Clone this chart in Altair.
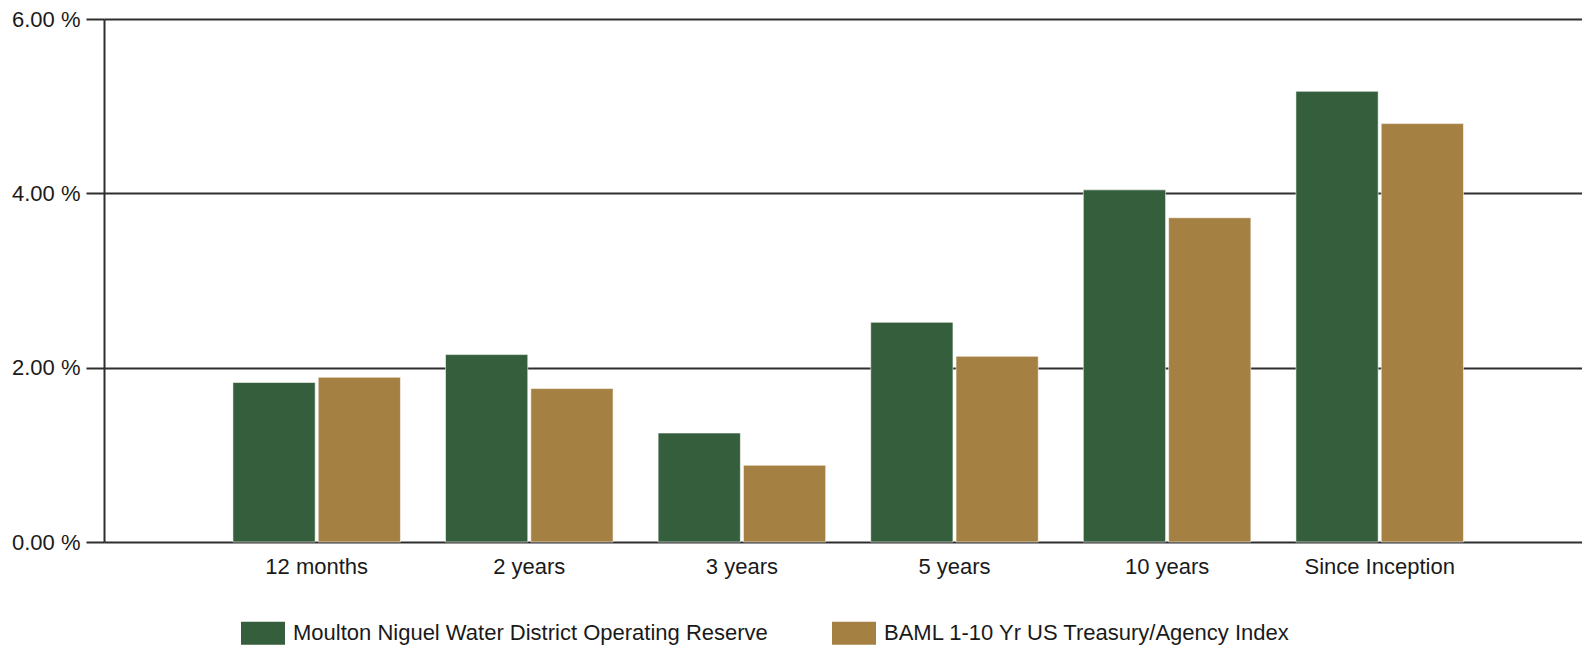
import altair as alt
import pandas as pd

categories = ["12 months", "2 years", "3 years", "5 years", "10 years", "Since Inception"]
series_names = ["Moulton Niguel Water District Operating Reserve", "BAML 1-10 Yr US Treasury/Agency Index"]
reserve_values = [1.83, 2.15, 1.25, 2.52, 4.04, 5.17]
index_values = [1.89, 1.76, 0.88, 2.13, 3.72, 4.80]
colors = ["#345E3C", "#A58043"]
y_ticks = [0, 2, 4, 6]

rows = []
for c, a, b in zip(categories, reserve_values, index_values):
    rows.append({"period": c, "series": series_names[0], "value": a})
    rows.append({"period": c, "series": series_names[1], "value": b})
df = pd.DataFrame(rows)

FONT = "Liberation Sans"
TXT = "#1a1a1a"
LINE = "#2e2e2e"

chart = alt.Chart(df).mark_bar(stroke="white", strokeWidth=1, strokeOpacity=0.55).encode(
    x=alt.X("period:N", sort=categories, title=None,
            scale=alt.Scale(paddingInner=0.212, paddingOuter=0.582, align=0.521),
            axis=alt.Axis(labelAngle=0, ticks=False, domain=False, labelPadding=14,
                          labelFont=FONT, labelFontSize=22, labelColor=TXT)),
    xOffset=alt.XOffset("series:N", sort=series_names,
                        scale=alt.Scale(paddingInner=0.036, paddingOuter=0)),
    y=alt.Y("value:Q", title=None,
            scale=alt.Scale(domain=[0, 6], nice=False),
            axis=alt.Axis(values=y_ticks, labelExpr="format(datum.value, '.2f') + ' %'",
                          grid=True, gridColor=LINE, gridWidth=2,
                          tickSize=18, tickColor=LINE, tickWidth=2,
                          domainColor=LINE, domainWidth=2,
                          labelPadding=6, labelFont=FONT, labelFontSize=22, labelColor=TXT)),
    color=alt.Color("series:N", sort=series_names,
                    scale=alt.Scale(domain=series_names, range=colors),
                    legend=alt.Legend(title=None, orient="none", legendX=137, legendY=592,
                                      direction="horizontal", columns=2, columnPadding=64,
                                      symbolType="M-1,-0.52L1,-0.52L1,0.52L-1,0.52Z",
                                      symbolSize=1936, symbolStrokeWidth=0, symbolOpacity=1,
                                      labelOffset=8, labelLimit=0, padding=0,
                                      labelFont=FONT, labelFontSize=22, labelColor=TXT)),
).properties(
    width=1478, height=523,
    autosize=alt.AutoSizeParams(type="none"),
    padding={"left": 104, "top": 19, "right": 0, "bottom": 106},
).configure_view(stroke=None).configure(background="white")

chart.save("out.html", embed_options={"renderer": "svg", "actions": False})
